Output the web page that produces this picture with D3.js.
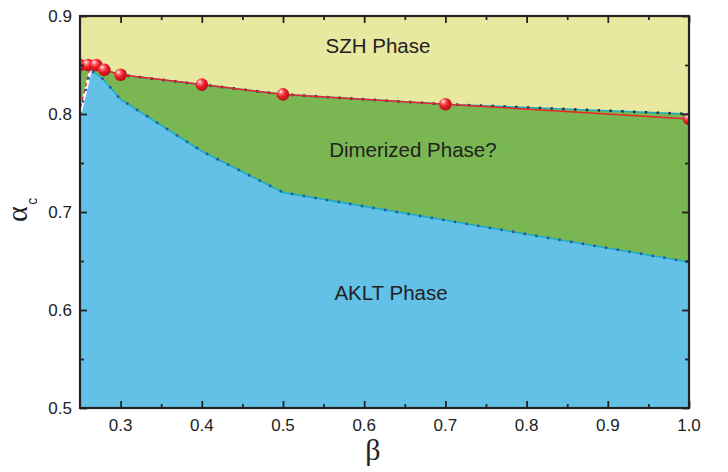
<!DOCTYPE html>
<html>
<head>
<meta charset="utf-8">
<script src="https://cdn.jsdelivr.net/npm/d3@7"></script>
<style>
    body { margin: 0; background: #fff; }
    svg { display: block; }
    .tick-label { font-family: "Liberation Sans", Arial, sans-serif; font-size: 17px; fill: #222; }
    .phase { font-family: "Liberation Sans", Arial, sans-serif; font-size: 20.5px; fill: #222; }
</style>
</head>
<body>
<script>
// red spheres: critical alpha_c for each beta
var beta = [0.25, 0.26, 0.27, 0.28, 0.3, 0.4, 0.5, 0.7, 1.0];
var alphaC = [0.85, 0.85, 0.85, 0.845, 0.84, 0.83, 0.82, 0.81, 0.795];

// SZH / dimerized boundary
var upperBeta = [0.25, 0.27, 0.28, 0.3, 0.4, 0.5, 0.7, 1.0];
var upperAlpha = [0.85, 0.85, 0.845, 0.84, 0.83, 0.82, 0.81, 0.80];

// dimerized / AKLT boundary
var lowerBeta = [0.25, 0.263, 0.278, 0.3, 0.4, 0.5, 1.0];
var lowerAlpha = [0.80, 0.845, 0.836, 0.815, 0.762, 0.72, 0.649];

var xTicks = [0.3, 0.4, 0.5, 0.6, 0.7, 0.8, 0.9, 1.0];
var xMinor = [0.35, 0.45, 0.55, 0.65, 0.75, 0.85, 0.95];
var yTicks = [0.5, 0.6, 0.7, 0.8, 0.9];
var yMinor = [0.55, 0.65, 0.75, 0.85];

var phases = [
    {name: "SZH Phase", b: 0.617, a: 0.8626},
    {name: "Dimerized Phase?", b: 0.66, a: 0.7564},
    {name: "AKLT Phase", b: 0.633, a: 0.6102}
];

var W = 728, H = 472;
var mLeft = 80, mRight = 689, mTop = 16, mBottom = 408;

var x = d3.scaleLinear().domain([0.25, 1.0]).range([mLeft, mRight]);
var y = d3.scaleLinear().domain([0.5, 0.9]).range([mBottom, mTop]);

var svg = d3.select("body").append("svg")
    .attr("width", W)
    .attr("height", H);

var defs = svg.append("defs");
defs.append("clipPath").attr("id", "plot")
    .append("rect")
    .attr("x", mLeft).attr("y", mTop)
    .attr("width", mRight - mLeft).attr("height", mBottom - mTop);

var grad = defs.append("radialGradient").attr("id", "ball")
    .attr("cx", "38%").attr("cy", "35%").attr("r", "65%")
    .attr("fx", "32%").attr("fy", "28%");
grad.append("stop").attr("offset", "0%").attr("stop-color", "#ffffff");
grad.append("stop").attr("offset", "22%").attr("stop-color", "#ff7f82");
grad.append("stop").attr("offset", "55%").attr("stop-color", "#ee1d27");
grad.append("stop").attr("offset", "100%").attr("stop-color", "#b3121b");

var zip = function (bs, as) {
    return bs.map(function (b, i) { return [b, as[i]]; });
};
var upper = zip(upperBeta, upperAlpha);
var lower = zip(lowerBeta, lowerAlpha);
var points = zip(beta, alphaC);

var line = d3.line()
    .x(function (d) { return x(d[0]); })
    .y(function (d) { return y(d[1]); });

var area = d3.area()
    .x(function (d) { return x(d[0]); })
    .y0(y(0.5))
    .y1(function (d) { return y(d[1]); });

var g = svg.append("g").attr("clip-path", "url(#plot)");

// phase regions
g.append("rect")
    .attr("x", x(0.25)).attr("y", y(0.9))
    .attr("width", x(1.0) - x(0.25)).attr("height", y(0.5) - y(0.9))
    .attr("fill", "#e8e8a0");

// cyan outline of the SZH region (left and right edges)
g.append("path")
    .datum([[0.25, 0.9], [0.25, 0.85]])
    .attr("d", line).attr("stroke", "#1aafc8").attr("stroke-width", 2).attr("fill", "none");
g.append("path")
    .datum([[1.0, 0.9], [1.0, 0.80]])
    .attr("d", line).attr("stroke", "#1aafc8").attr("stroke-width", 2).attr("fill", "none");

g.append("path")
    .datum(upper)
    .attr("d", area)
    .attr("fill", "#7ab752");

g.append("path")
    .datum(lower)
    .attr("d", area)
    .attr("fill", "#63c0e6");

// boundary lines
g.append("path")
    .datum(upper)
    .attr("d", line)
    .attr("fill", "none").attr("stroke", "#1aafc8").attr("stroke-width", 1.6);

g.append("path")
    .datum(lower.slice(1))
    .attr("d", line)
    .attr("fill", "none").attr("stroke", "#1aafc8").attr("stroke-width", 1.6);

// left edge of AKLT region: white + red dashes
g.append("path")
    .datum(lower.slice(0, 2))
    .attr("d", line)
    .attr("fill", "none").attr("stroke", "#fff").attr("stroke-width", 3);
g.append("path")
    .datum(lower.slice(0, 2))
    .attr("d", line)
    .attr("transform", "translate(-1,0)")
    .attr("fill", "none").attr("stroke", "#e8252a").attr("stroke-width", 1.3)
    .attr("stroke-dasharray", "4,3");

// dotted boundaries
g.append("path")
    .datum(upper.slice(2))
    .attr("d", line)
    .attr("fill", "none").attr("stroke", "#2b2b2b").attr("stroke-width", 2.6)
    .attr("stroke-dasharray", "2.4,9.4");

g.append("path")
    .datum(lower)
    .attr("d", line)
    .attr("fill", "none").attr("stroke", "#2a55a5").attr("stroke-width", 2.6)
    .attr("stroke-dasharray", "2.4,9.4");

// red line + spheres
g.append("path")
    .datum(points)
    .attr("d", line)
    .attr("fill", "none").attr("stroke", "#e8252a").attr("stroke-width", 1.5);

g.selectAll("circle.pt")
    .data(points)
    .enter().append("circle")
    .attr("class", "pt")
    .attr("cx", function (d) { return x(d[0]); })
    .attr("cy", function (d) { return y(d[1]); })
    .attr("r", 6.3)
    .attr("fill", "url(#ball)");

// phase labels
svg.selectAll("text.phase")
    .data(phases)
    .enter().append("text")
    .attr("class", "phase")
    .attr("x", function (d) { return x(d.b); })
    .attr("y", function (d) { return y(d.a); })
    .attr("text-anchor", "middle")
    .text(function (d) { return d.name; });

/* axes: inward ticks on all four sides */

var axisColor = "#222";

function noDomain(a) {
    a.select(".domain").remove();
}

svg.append("g")
    .attr("transform", "translate(0," + mBottom + ")")
    .call(d3.axisBottom(x).tickValues(xTicks).tickSize(-7).tickFormat(""))
    .call(noDomain);
svg.append("g")
    .attr("transform", "translate(0," + mBottom + ")")
    .call(d3.axisBottom(x).tickValues(xMinor).tickSize(-4).tickFormat(""))
    .call(noDomain);
svg.append("g")
    .attr("transform", "translate(0," + mTop + ")")
    .call(d3.axisTop(x).tickValues(xTicks).tickSize(-7).tickFormat(""))
    .call(noDomain);
svg.append("g")
    .attr("transform", "translate(0," + mTop + ")")
    .call(d3.axisTop(x).tickValues(xMinor).tickSize(-4).tickFormat(""))
    .call(noDomain);

svg.append("g")
    .attr("transform", "translate(" + mLeft + ",0)")
    .call(d3.axisLeft(y).tickValues(yTicks).tickSize(-7).tickFormat(""))
    .call(noDomain);
svg.append("g")
    .attr("transform", "translate(" + mLeft + ",0)")
    .call(d3.axisLeft(y).tickValues(yMinor).tickSize(-4).tickFormat(""))
    .call(noDomain);
svg.append("g")
    .attr("transform", "translate(" + mRight + ",0)")
    .call(d3.axisRight(y).tickValues(yTicks).tickSize(-7).tickFormat(""))
    .call(noDomain);
svg.append("g")
    .attr("transform", "translate(" + mRight + ",0)")
    .call(d3.axisRight(y).tickValues(yMinor).tickSize(-4).tickFormat(""))
    .call(noDomain);

svg.selectAll(".tick line")
    .attr("stroke", axisColor)
    .attr("stroke-width", 1.8);

// frame
svg.append("rect")
    .attr("x", mLeft).attr("y", mTop)
    .attr("width", mRight - mLeft).attr("height", mBottom - mTop)
    .attr("fill", "none")
    .attr("stroke", axisColor)
    .attr("stroke-width", 2.2);

// tick labels
svg.selectAll("text.xl")
    .data(xTicks)
    .enter().append("text")
    .attr("class", "tick-label xl")
    .attr("x", function (d) { return x(d); })
    .attr("y", mBottom + 23)
    .attr("text-anchor", "middle")
    .text(d3.format(".1f"));

svg.selectAll("text.yl")
    .data(yTicks)
    .enter().append("text")
    .attr("class", "tick-label yl")
    .attr("x", mLeft - 8)
    .attr("y", function (d) { return y(d) + 6; })
    .attr("text-anchor", "end")
    .text(d3.format(".1f"));

// axis titles
svg.append("text")
    .attr("x", 373)
    .attr("y", 460)
    .attr("text-anchor", "middle")
    .style("font-family", "'Liberation Serif', 'Times New Roman', serif")
    .style("font-size", "30px")
    .style("fill", "#222")
    .text("β");

var yt = svg.append("text")
    .attr("transform", "translate(26.5,222) rotate(-90)")
    .style("fill", "#222");
yt.append("tspan")
    .style("font-family", "'Liberation Serif', 'Times New Roman', serif")
    .style("font-size", "30px")
    .text("α");
yt.append("tspan")
    .attr("dx", 1.5)
    .attr("dy", 10)
    .style("font-family", "'Liberation Sans', Arial, sans-serif")
    .style("font-size", "14px")
    .text("c");
</script>
</body>
</html>
